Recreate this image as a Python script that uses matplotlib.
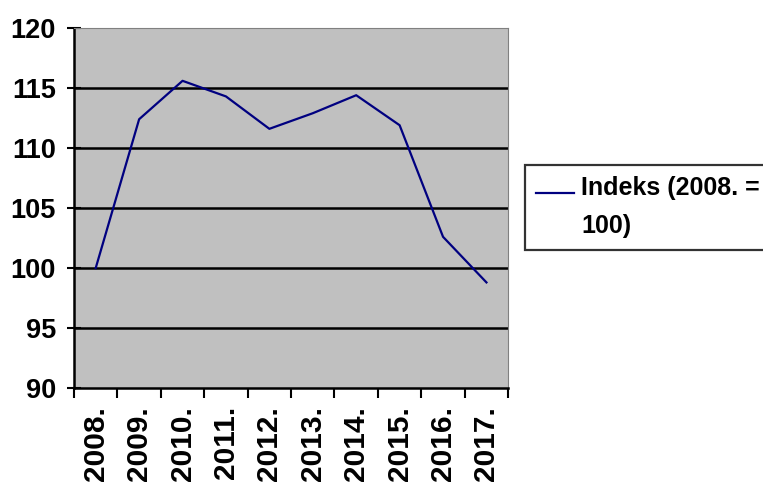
import numpy as np
import matplotlib.pyplot as plt
from matplotlib.legend_handler import HandlerLine2D

# Years and index values (2008 = 100)
years = ['2008.', '2009.', '2010.', '2011.', '2012.',
         '2013.', '2014.', '2015.', '2016.', '2017.']
index_values = [100.0, 112.4, 115.6, 114.3, 111.6,
                112.9, 114.4, 111.9, 102.6, 98.8]
y_ticks = [90, 95, 100, 105, 110, 115, 120]
legend_label = 'Indeks (2008. =\n100)'

plt.rcParams['font.family'] = ['Liberation Sans', 'DejaVu Sans']
plt.rcParams['font.weight'] = 'bold'


# legend line sits next to the first text line, not the middle
class TopLineHandler(HandlerLine2D):
    def create_artists(self, legend, orig_handle, xdescent, ydescent,
                       width, height, fontsize, trans):
        return super().create_artists(legend, orig_handle, xdescent, ydescent,
                                      width, height + 22, fontsize, trans)


fig = plt.figure(figsize=(7.63, 4.96), dpi=100)
ax = fig.add_axes([0.097, 0.2177, 0.569, 0.7258])
ax.set_facecolor('#C0C0C0')

x = np.arange(len(years))
line, = ax.plot(x, index_values, color='#000080', linewidth=1.6,
                label=legend_label)

ax.set_xlim(-0.5, len(years) - 0.5)
ax.set_ylim(90, 120)

# horizontal gridlines (inside only)
for yv in y_ticks[1:-1]:
    ax.axhline(yv, color='black', linewidth=1.8, zorder=1)

ax.set_yticks(y_ticks)
ax.set_yticklabels([str(v) for v in y_ticks], fontsize=19.5, fontweight='bold')
ax.tick_params(axis='y', direction='inout', length=10, width=1.5, pad=8)

# category labels centred, tick marks at category boundaries
ax.set_xticks(x)
ax.set_xticklabels(years, rotation=90, fontsize=21.5, fontweight='bold')
ax.set_xticks(np.arange(-0.5, len(years)), minor=True)
ax.tick_params(axis='x', which='major', length=0, pad=13)
ax.tick_params(axis='x', which='minor', direction='out', length=7, width=1.5)

ax.spines['left'].set_linewidth(1.8)
ax.spines['bottom'].set_linewidth(1.8)
ax.spines['top'].set_color('#808080')
ax.spines['right'].set_color('#808080')

leg = fig.legend(handles=[line], loc='upper left',
                 bbox_to_anchor=(525 / 763, 1 - 165 / 496),
                 borderaxespad=0, frameon=True, fancybox=False,
                 edgecolor='black', handlelength=1.5, handletextpad=0.3,
                 borderpad=0.45, prop={'weight': 'bold', 'size': 18},
                 handler_map={line: TopLineHandler()})
leg.get_frame().set_linewidth(1.6)
for t in leg.get_texts():
    t.set_linespacing(1.75)

fig.savefig('out.png', dpi=100)
